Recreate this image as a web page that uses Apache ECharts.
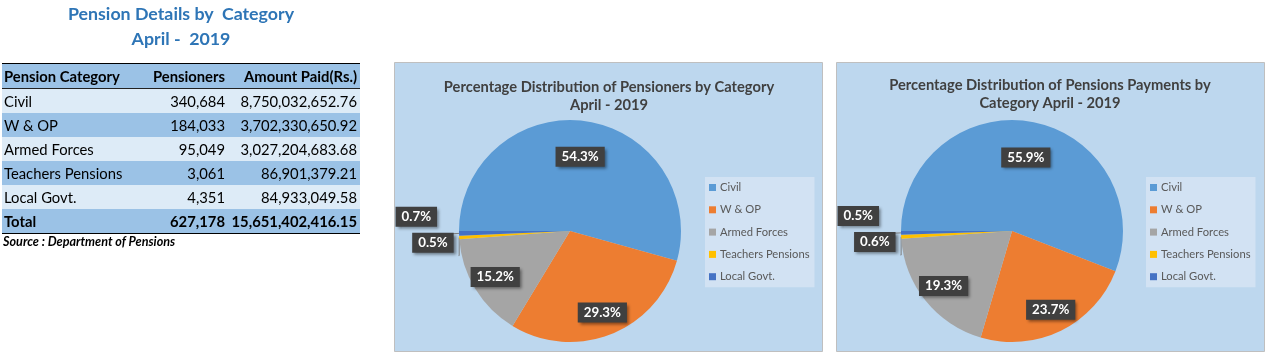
<!DOCTYPE html>
<html>
<head>
<meta charset="utf-8">
<script src="https://cdn.jsdelivr.net/npm/echarts@6/dist/echarts.min.js"></script>
<style>
  html, body { margin: 0; padding: 0; background: #fff; }
  #page { position: relative; width: 1267px; height: 354px; overflow: hidden; font-family: Lato, "Open Sans", sans-serif; }
  #chart { position: absolute; left: 0; top: 0; width: 1267px; height: 354px; }
  #left { position: absolute; left: 0; top: 0; width: 370px; z-index: 2; }
  .ttl { position: absolute; left: 0; width: 362px; text-align: center; color: #2E75B6; font-weight: bold; font-size: 17.8px; }
  #tbl { position: absolute; left: 2px; top: 63px; width: 358px; border-collapse: collapse; table-layout: fixed; font-size: 14.8px; color: #000; }
  #tbl td, #tbl th { height: 24px; padding: 0 3px 0 2px; white-space: nowrap; overflow: visible; }
  #tbl th { font-weight: bold; text-align: right; }
  #tbl th:first-child, #tbl td:first-child { text-align: left; }
  #tbl td { text-align: right; }
  #tbl tr.hdr { border-top: 1.5px solid #000; border-bottom: 1px solid #222; background: #9BC2E6; }
  #tbl tr.dk { background: #9BC2E6; }
  #tbl tr.lt { background: #DDEBF7; }
  #tbl tr.tot { background: #9BC2E6; border-bottom: 1.5px solid #000; }
  #tbl tr.tot td { font-weight: bold; }
  #src { position: absolute; left: 3px; top: 234px; font-size: 12.6px; font-weight: bold; font-style: italic; color: #000; }
</style>
</head>
<body>
<div id="page">
  <div id="chart"></div>
  <div id="left">
    <div class="ttl" style="top:2px;">Pension Details by&nbsp; Category</div>
    <div class="ttl" style="top:27px;">April -&nbsp; 2019</div>
    <table id="tbl">
      <colgroup><col style="width:148px"><col style="width:78px"><col style="width:132px"></colgroup>
      <tbody id="tbody"></tbody>
    </table>
    <div id="src">Source : Department of Pensions</div>
  </div>
</div>
<script>
// 表格与饼图数据
var categories = ['Civil', 'W & OP', 'Armed Forces', 'Teachers Pensions', 'Local Govt.'];
var pensioners = [340684, 184033, 95049, 3061, 4351];
var amountPaid = [8750032652.76, 3702330650.92, 3027204683.68, 86901379.21, 84933049.58];
var totalPensioners = 627178;
var totalAmount = 15651402416.15;
var colors = ['#5B9BD5', '#ED7D31', '#A5A5A5', '#FFC000', '#4472C4'];

var fmtInt = function(v) { return v.toLocaleString('en-US'); };
var fmtAmt = function(v) { return v.toLocaleString('en-US', {minimumFractionDigits: 2, maximumFractionDigits: 2}); };

// build table
var html = '<tr class="hdr"><th>Pension Category</th><th>Pensioners</th><th>Amount Paid(Rs.)</th></tr>';
for (var i = 0; i < categories.length; i++) {
	html += '<tr class="' + (i % 2 == 0 ? 'lt' : 'dk') + '"><td>' + categories[i] + '</td><td>' + fmtInt(pensioners[i]) + '</td><td>' + fmtAmt(amountPaid[i]) + '</td></tr>';
}
html += '<tr class="tot"><td>Total</td><td>' + fmtInt(totalPensioners) + '</td><td>' + fmtAmt(totalAmount) + '</td></tr>';
document.getElementById('tbody').innerHTML = html;

var pieCenters = [570, 1012];
var pieCy = 231;
// how far the inside labels sit out from the middle radius (Civil, W & OP, Armed Forces)
var insideScale = [1.28, 1.5, 1.5];
// leader line lengths and lift for the thin slices
var smallLines = { 'Teachers Pensions': [4, 4, -13], 'Local Govt.': [10, 12, -17] };

function pieData(values) {
	var arr = [];
	for (var i = 0; i < categories.length; i++) {
		var item = { name: categories[i], value: values[i], itemStyle: { color: colors[i] } };
		var ln = smallLines[categories[i]];
		if (ln) {
			item.label = { position: 'outside' };
			item.labelLine = { show: true, length: ln[0], length2: ln[1] };
		}
		arr.push(item);
	}
	return arr;
}

var labelStyle = {
	show: true,
	position: 'inside',
	formatter: '{d}%',
	color: '#fff',
	fontWeight: 'bold',
	fontSize: 13.3,
	fontFamily: 'Lato',
	backgroundColor: '#404040',
	padding: [4, 6, 3, 6],
	shadowColor: 'rgba(0,0,0,0.45)',
	shadowBlur: 3,
	shadowOffsetX: 2,
	shadowOffsetY: 2
};

function pieSeries(idx, values) {
	return {
		type: 'pie',
		center: [pieCenters[idx], pieCy],
		radius: 111,
		startAngle: 180,
		clockwise: true,
		percentPrecision: 1,
		avoidLabelOverlap: true,
		label: labelStyle,
		labelLine: { show: false, lineStyle: { color: '#7F7F7F', width: 1 } },
		emphasis: { disabled: true },
		// push the inside labels outward, like Excel's best fit
		labelLayout: function(p) {
			var ln = smallLines[categories[p.dataIndex]];
			if (ln) {
				return { dy: ln[2] };
			}
			var k = insideScale[p.dataIndex];
			var cx = pieCenters[p.seriesIndex];
			var lx = p.labelRect.x + p.labelRect.width / 2;
			var ly = p.labelRect.y + p.labelRect.height / 2;
			return { x: cx + (lx - cx) * k, y: pieCy + (ly - pieCy) * k };
		},
		data: pieData(values)
	};
}

function legendAt(x) {
	return {
		orient: 'vertical',
		left: x,
		top: 177,
		icon: 'rect',
		itemWidth: 7,
		itemHeight: 7,
		itemGap: 11.3,
		backgroundColor: '#D2E2F3',
		padding: [5, 5, 5, 4],
		selectedMode: false,
		textStyle: { fontSize: 11.2, color: '#595959', fontFamily: 'Lato', padding: [0, 0, 0, -1] },
		data: categories
	};
}

var titleStyle = { fontSize: 14.7, fontWeight: 'bold', color: '#404040', fontFamily: 'Lato', lineHeight: 18 };

var myChart = echarts.init(document.getElementById('chart'));
var option = {
	animation: false,
	graphic: [
		{ type: 'rect', z: -10, shape: { x: 394.5, y: 62.5, width: 428, height: 289 }, style: { fill: '#BDD7EE', stroke: '#BFBFBF', lineWidth: 1 } },
		{ type: 'rect', z: -10, shape: { x: 836.5, y: 62.5, width: 428, height: 289 }, style: { fill: '#BDD7EE', stroke: '#BFBFBF', lineWidth: 1 } }
	],
	title: [
		{ text: 'Percentage Distribution of Pensioners by Category\nApril - 2019', left: 609, top: 78, padding: 0, textAlign: 'center', textStyle: titleStyle },
		{ text: 'Percentage Distribution of Pensions Payments by\nCategory April - 2019', left: 1050, top: 76, padding: 0, textAlign: 'center', textStyle: titleStyle }
	],
	legend: [legendAt(705), legendAt(1146)],
	series: [pieSeries(0, pensioners), pieSeries(1, amountPaid)]
};
myChart.setOption(option);
</script>
</body>
</html>
